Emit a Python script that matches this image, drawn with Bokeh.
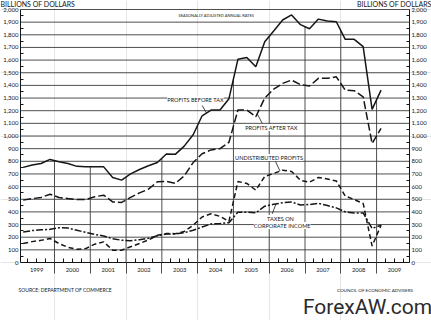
import numpy as np
from bokeh.plotting import figure
from bokeh.models import (Range1d, LinearAxis, FixedTicker, NumeralTickFormatter,
                          Label, CustomJSTickFormatter)
from bokeh.embed import file_html
from bokeh.resources import INLINE

years = list(range(1999, 2010))
year_labels = [str(y) for y in years]
quarters = [f"{y}Q{q}" for y in years for q in range(1, 5)][:41]

profits_before_tax = [752, 770, 783, 815,
                      796, 782, 760, 756,
                      756, 756, 672, 651,
                      700, 735, 765, 790,
                      858, 855, 920, 1010,
                      1160, 1205, 1205, 1295,
                      1606, 1620, 1548, 1745,
                      1830, 1917, 1957, 1880,
                      1848, 1924, 1909, 1903,
                      1764, 1764, 1706, 1210,
                      1363]
profits_after_tax = [493, 505, 514, 540,
                     514, 505, 498, 498,
                     520, 532, 479, 475,
                     515, 550, 580, 638,
                     642, 625, 685, 790,
                     860, 890, 900, 950,
                     1205, 1205, 1152, 1300,
                     1370, 1416, 1442, 1405,
                     1395, 1456, 1456, 1468,
                     1362, 1358, 1310, 941,
                     1060]
undistributed_profits = [150, 165, 175, 190,
                         150, 120, 105, 110,
                         145, 163, 97, 97,
                         125, 150, 178, 215,
                         229, 228, 245, 295,
                         360, 385, 365, 325,
                         640, 625, 572, 680,
                         704, 730, 720, 650,
                         635, 672, 660, 645,
                         525, 498, 467, 130,
                         295]
taxes_corporate_income = [242, 252, 258, 262,
                          275, 272, 255, 238,
                          222, 210, 188, 176,
                          172, 180, 192, 212,
                          226, 226, 235, 255,
                          280, 305, 308, 315,
                          398, 398, 392, 445,
                          460, 472, 478, 455,
                          458, 467, 450, 432,
                          400, 392, 392, 269,
                          295]

y_ticks = list(range(0, 2001, 100))

# ---- layout: the frame covers the whole canvas, the plot box sits inside it
W, H = 431, 320
PX_LEFT, PX_RIGHT, PX_TOP, PX_BOTTOM = 20, 409, 9, 262
X0, X1 = 1999.05, 2009.92
Y0, Y1 = 0, 2000
SX = (PX_RIGHT - PX_LEFT) / (X1 - X0)
SY = (PX_BOTTOM - PX_TOP) / (Y1 - Y0)


def fx(px):
    return X0 + (px - PX_LEFT) / SX


def fy(py):
    return Y0 + (PX_BOTTOM - py) / SY


# quarter centres on a decimal-year axis
t = np.array([int(q[:4]) + (int(q[-1]) - 0.5) / 4 for q in quarters])
boundaries = years[1:]
quarter_marks = [y + f for y in years for f in (0.25, 0.5, 0.75) if y + f < X1]

FONT = "Lato"
INK = "#161616"
GRID = "#3c3c3c"

p = figure(width=W, height=H, x_range=Range1d(fx(0), fx(W)),
           y_range=Range1d(fy(H), fy(0)), output_backend="svg", toolbar_location=None,
           x_axis_location=None, y_axis_location=None,
           min_border_left=0, min_border_right=0, min_border_top=0,
           min_border_bottom=0)
p.outline_line_color = None
p.background_fill_color = "white"
p.border_fill_color = "white"

# horizontal grid lines across the plot box
p.segment(x0=[X0] * (len(y_ticks) - 1), y0=y_ticks[1:], x1=[X1] * (len(y_ticks) - 1),
          y1=y_ticks[1:], line_color=GRID, line_width=0.9)

# y axes
for side, loc in (("left", X0), ("right", X1)):
    ax = LinearAxis(ticker=FixedTicker(ticks=y_ticks, minor_ticks=[v + 50 for v in y_ticks[:-1]]),
                    formatter=NumeralTickFormatter(format="0,0"),
                    fixed_location=loc, bounds=(Y0, Y1))
    ax.major_tick_in = 0
    ax.major_tick_out = 0
    ax.minor_tick_in = 3
    ax.minor_tick_out = 0
    ax.minor_tick_line_color = INK
    ax.axis_line_color = INK
    ax.axis_line_width = 1
    ax.major_label_standoff = 2
    ax.major_label_text_font = FONT
    ax.major_label_text_font_size = "6px"
    ax.major_label_text_color = INK
    p.add_layout(ax, side)

# x axis: year boundaries extend below, quarters inward
xa = LinearAxis(ticker=FixedTicker(ticks=boundaries, minor_ticks=quarter_marks),
                formatter=CustomJSTickFormatter(code="return ''"),
                fixed_location=Y0, bounds=(X0, X1))
xa.major_tick_in = 0
xa.major_tick_out = 11
xa.major_tick_line_color = GRID
xa.major_tick_line_width = 0.9
xa.minor_tick_in = 4
xa.minor_tick_out = 0
xa.minor_tick_line_color = INK
xa.axis_line_color = INK
xa.major_label_text_font_size = "1px"
p.add_layout(xa, "below")

# year separators, from axis up to the profits-before-tax curve
p.segment(x0=boundaries, y0=[Y0] * len(boundaries), x1=boundaries,
          y1=list(np.interp(boundaries, t, profits_before_tax)),
          line_color=GRID, line_width=0.9)

# series
p.line(t, profits_before_tax, line_color=INK, line_width=1.5)
p.line(t, profits_after_tax, line_color=INK, line_width=1.5, line_dash="8 3")
p.line(t, undistributed_profits, line_color=INK, line_width=1.5, line_dash="5 3")
p.line(t, taxes_corporate_income, line_color=INK, line_width=1.5, line_dash="7 2 2 2")


# leader lines: label side -> curve
def leader(px0, py0, px1, series):
    x1 = fx(px1)
    p.segment(x0=[fx(px0)], y0=[fy(py0)], x1=[x1], y1=[float(np.interp(x1, t, series))],
              line_color=INK, line_width=0.8)


leader(201.7, 105, 206, profits_before_tax)
leader(261.7, 122.7, 256.7, profits_after_tax)
leader(275, 161, 279.5, undistributed_profits)
leader(271.7, 213.3, 275.5, taxes_corporate_income)


def lab(px, py, text, size, align="center", bg=True, font=FONT, color=INK):
    l = Label(x=fx(px), y=fy(py), text=text, text_font=font, text_font_size=size,
              text_align=align, text_baseline="middle", text_color=color)
    if bg:
        l.background_fill_color = "white"
    p.add_layout(l)


lab(0, 3.5, "BILLIONS OF DOLLARS", "7px", align="left", bg=False)
lab(431, 3.5, "BILLIONS OF DOLLARS", "7px", align="right", bg=False)
lab(216, 15, "SEASONALLY ADJUSTED ANNUAL RATES", "4px")
lab(195, 99, "PROFITS BEFORE TAX", "5.6px")
lab(271, 127, "PROFITS AFTER TAX", "5.6px")
lab(268.5, 157, "UNDISTRIBUTED PROFITS", "5.6px")
lab(280, 218, "TAXES ON", "5.6px")
lab(281.7, 225, "CORPORATE INCOME", "5.6px")
for yv, yl in zip(years, year_labels):
    l = Label(x=yv + 0.5, y=fy(269.5), text=yl, text_font=FONT, text_font_size="5.8px",
              text_align="center", text_baseline="middle", text_color=INK)
    p.add_layout(l)
lab(18, 289, "SOURCE: DEPARTMENT OF COMMERCE", "5px", align="left", bg=False)
lab(413, 289, "COUNCIL OF ECONOMIC ADVISERS", "4.6px", align="right", bg=False)
lab(367, 306, "ForexAW.com", "21px", bg=False, font="Roboto", color="#2b2b2b")

open("out.html", "w").write(file_html(p, INLINE))
